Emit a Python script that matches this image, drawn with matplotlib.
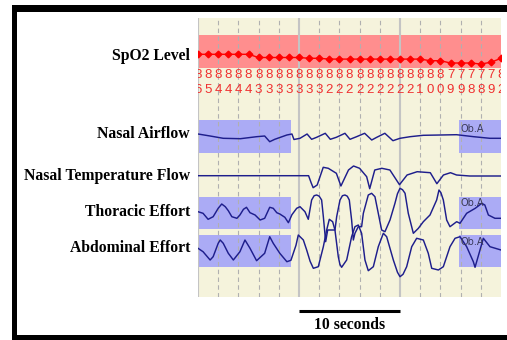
import matplotlib
matplotlib.use('Agg')
import matplotlib.pyplot as plt
from matplotlib.patches import Rectangle
import numpy as np

# ---------------- data ----------------
channel_names = ["SpO2 Level", "Nasal Airflow", "Nasal Temperature Flow",
                 "Thoracic Effort", "Abdominal Effort"]
scale_label = "10 seconds"
event_label = "Ob.A"

# SpO2 (one sample per second)
spo2_t = list(range(31))
spo2_trend = [84.5] * 6 + [82.9] * 5 + [82.5] * 2 + [82.1] * 10 + [81.3] * 2 + \
             [80.15] * 3 + [79.65, 80.5, 82.5]
spo2_labels = [86, 85, 84, 84, 84, 84] + [83] * 7 + [82] * 9 + \
              [81, 80, 80, 79, 79, 78, 78, 79, 82]

# Nasal airflow (deflection, arbitrary units, up positive)
airflow_t = [0.0, 1.2, 2.5, 4.2, 5.8, 6.6, 7.1, 7.6, 8.8, 9.3, 9.5, 10.1, 10.8, 11.25,
             11.75, 12.6, 13.1, 13.7, 14.55, 15.05, 15.7, 16.5, 17.2, 17.7, 18.5, 19.3,
             20.0, 21.0, 22.3, 24.0, 25.6, 27.3, 28.9, 30.0]
airflow_v = [0, -2, -4.3, -4.7, -2.7, -2, -7.7, -5.3, -1, 0, -5.5, -4.3, 0, -5.3,
             -3.3, 0.7, -5.3, -3.3, 0.7, -5.3, -2.7, 0.7, -6, -3.3, 0.7, -6.7,
             -4.3, -2.7, -1.3, -1, -0.7, -2.7, -4.3, -4.3]

# Nasal temperature flow
temp_t = [0, 10.95, 11.2, 11.4, 11.8, 12.4, 12.9, 13.7, 14.15, 14.9, 15.4, 16.0, 16.7,
          17.0, 17.5, 18.2, 19.0, 19.95, 20.7, 21.7, 23.0, 23.65, 24.3, 25.0, 25.6, 26.9, 30]
temp_v = [0, 0, -7, -12, -9.3, 8.4, 7.4, 2.4, -10.3, 5.7, 9.7, 7.4, -1,
          -13, 5.7, 7.4, 5.7, -9, 0.7, 4, 3, -8, 0.7, 3, 0.7, -0.3, -0.3]

# Thoracic effort
thor_t = [0, 0.5, 1.0, 1.5, 2.0, 2.35, 2.7, 3.0, 3.35, 3.85, 4.15, 4.5, 4.8, 5.15, 5.65,
          6.15, 6.6, 7.1, 7.45, 7.8, 8.1, 8.6, 8.95, 9.3, 9.77, 10.1, 10.59, 10.92,
          11.25, 11.5, 11.75, 12.0, 12.24, 12.41, 12.64, 12.84, 13.56, 13.73, 14.06,
          14.3, 14.55, 14.78, 14.98, 15.21, 15.38, 15.54, 15.87, 16.2, 16.37, 16.86,
          17.19, 17.52, 17.85, 18.18, 18.51, 19.01, 19.5, 19.75, 20.0, 20.25, 20.5,
          20.82, 21.32, 21.81, 22.31, 22.97, 23.63, 23.86, 24.05, 24.29, 24.62, 24.95,
          25.61, 25.94, 26.6, 27.45, 28.1, 28.4, 28.75, 29.4, 30]
thor_v = [0, -1.6, -7.6, -5, 3.4, 7.7, 5, 1, -5, -6.6, -3.3, 2.4, 4.4, -1, -3.3,
          -8.3, -6.6, 4.4, 3.4, -1, -2.3, -5.6, -11, -3, 3.4, 5, 0, -7.6,
          11.7, 16, 16.7, 15.5, 11.7, -5, -30, -18.3, -18.3, -5, 11.7,
          16, 16.7, 15.5, 11.7, -8.3, -28.3, -21.6, -15, -15, -1.6, 16.7,
          18.4, 15, -1.6, -18.3, -20, -8.3, 8.4, 18, 23.4, 22, 18.4,
          -1.6, -21.6, -16.7, -10, -3.3, 11.7, 21.7, 19, 11.7, -8.3, -15,
          -10, -11.6, -1.6, 3.4, 8.4, 6.7, -3.3, -6.6, -6.6]

# Abdominal effort
abd_t = [0, 0.5, 1.2, 1.5, 2.0, 2.2, 2.5, 3.0, 3.5, 4.15, 4.65, 5.15, 5.8, 6.6, 7.1,
         7.45, 8.1, 8.8, 9.2, 9.7, 9.93, 10.43, 10.76, 11.1, 11.42, 11.91, 12.41, 12.74,
         13.0, 13.33, 13.56, 13.89, 14.05, 14.22, 14.72, 15.21, 15.54, 15.87, 16.2,
         16.53, 16.86, 17.36, 17.85, 18.35, 18.68, 19.34, 19.75, 20.0, 20.3, 20.66,
         21.16, 21.65, 22.31, 22.8, 23.14, 23.8, 24.29, 24.95, 25.45, 25.94, 26.6,
         27.26, 27.43, 27.92, 28.25, 28.91, 30]
abd_v = [0, -3.4, -11.7, -8.4, 5, 8.3, 5, -5, -11.7, -3.4, 8.3, 0, -12.4, -5, 11.6,
         5, -5, -13.4, -12, 3, 13.3, 8.3, -1.7, -13, -20, -18.4, 1.6, 18.3,
         29, 26.6, 18.3, -8.4, -16, -19, -11.7, 11.6, 21.6, 23.3, 15,
         -11.7, -22.4, -18.4, 1.6, 15, 11.6, -11.7, -24, -28.4, -26, -18.4,
         1.6, 10, 8.3, -5, -20, -21.7, -18.4, 1.6, 10, 11.6, 1.6,
         -13.4, -19, -1.7, 10, 1.6, -1.7]

# event windows (seconds)
event_windows = [(0.0, 9.2), (25.8, 30.0)]

# ---------------- layout / style ----------------
W, H = 507, 340
X0, X1, Y0, Y1 = 198, 501, 18, 297
T_MAX = 30
BEIGE = '#F5F3DC'
PINK = '#FF8E8E'
BOX = '#ABABF5'
NAVY = '#1E1E8C'
RED = '#FF0000'

fig = plt.figure(figsize=(W / 100, H / 100), dpi=100)
fig.patch.set_facecolor('white')
ax = fig.add_axes([X0 / W, 1 - Y1 / H, (X1 - X0) / W, (Y1 - Y0) / H])
ax.set_xlim(0, T_MAX)
ax.set_ylim(Y1, Y0)
ax.set_facecolor(BEIGE)
for s in ax.spines.values():
    s.set_visible(False)
ax.set_xticks([])
ax.set_yticks([])

# pink SpO2 band
ax.add_patch(Rectangle((0, 35), T_MAX, 32.6, facecolor=PINK, edgecolor='none', zorder=1))

# event boxes per channel: (top, height)
boxes = {'air': (120, 32.7), 'thor': (197.3, 32.0), 'abd': (235, 32.3)}
for key, (top, h) in boxes.items():
    for (a, b) in event_windows:
        ax.add_patch(Rectangle((a, top), b - a, h, facecolor=BOX, edgecolor='none', zorder=2))

# grid
for t in range(0, T_MAX, 2):
    if t % 10 == 0:
        ax.axvline(t, color='#c4c4c4', lw=1.5, zorder=3)
    else:
        ax.axvline(t, color='#b0b0b0', lw=0.8, ls=(0, (4, 3)), zorder=3)

# SpO2 trend
spo2_y = [54.3 + (84.5 - v) * 2.0 for v in spo2_trend]
ax.plot(spo2_t, spo2_y, color=RED, lw=1.0, marker='D', ms=3.4, zorder=6)
for t, v in zip(spo2_t, spo2_labels):
    ax.text(t, 78.5, str(v // 10), ha='center', va='baseline', color='#F03030',
            fontsize=9.5, family='Liberation Sans', clip_on=True, zorder=6)
    ax.text(t, 93, str(v % 10), ha='center', va='baseline', color='#F03030',
            fontsize=9.5, family='Liberation Sans', clip_on=True, zorder=6)

# traces
baselines = {'air': 134, 'temp': 175.7, 'thor': 211.7, 'abd': 248.3}
for key, tt, vv in [('air', airflow_t, airflow_v), ('temp', temp_t, temp_v),
                    ('thor', thor_t, thor_v), ('abd', abd_t, abd_v)]:
    ax.plot(tt, baselines[key] - np.array(vv), color=NAVY, lw=1.05, zorder=5)

# Ob.A labels
for yb in [131.5, 206.5, 245]:
    ax.text(25.95, yb, event_label, fontsize=7, color='#3a3a5a', family='DejaVu Sans',
            va='baseline', ha='left', zorder=7)

# channel labels
label_base = [59.5, 137.5, 179.5, 215.5, 252]
for name, yb in zip(channel_names, label_base):
    ax.text(-0.79, yb, name, ha='right', va='baseline', family='Liberation Serif',
            weight='bold', fontsize=11.3, clip_on=False)

# scale bar
ax.plot([10, 20], [310.7, 310.7], color='black', lw=2.2, solid_capstyle='butt', clip_on=False)
ax.text(15, 329, scale_label, ha='center', va='baseline', family='Liberation Serif',
        weight='bold', fontsize=11.3, clip_on=False)

# black frame bands
for (x, y, w, h) in [(12, 5, W - 12, 6.5), (12, 5, 5, H - 5), (12, 335, W - 12, 5)]:
    fig.add_artist(Rectangle((x / W, 1 - (y + h) / H), w / W, h / H,
                             transform=fig.transFigure, facecolor='black',
                             edgecolor='none'))

fig.savefig('out.png', dpi=100)
